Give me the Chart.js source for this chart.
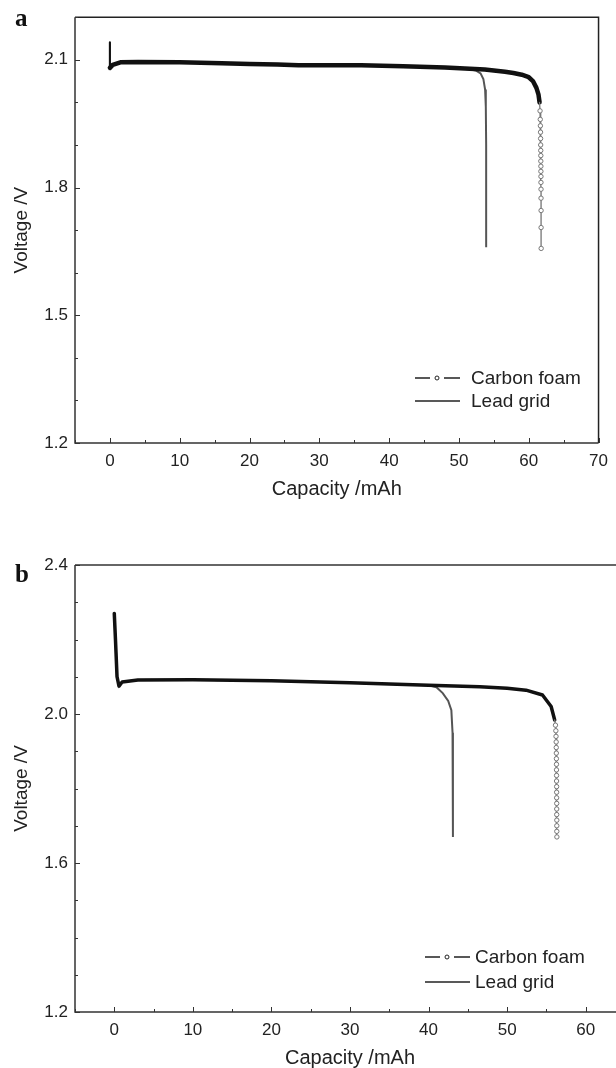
<!DOCTYPE html>
<html>
<head>
<meta charset="utf-8">
<script src="https://cdn.jsdelivr.net/npm/chart.js@4.4.1/dist/chart.umd.min.js"></script>
<style>
html, body { margin: 0; padding: 0; background: #fff; }
#wrap { position: relative; width: 616px; height: 1068px; overflow: hidden; }
.panel { position: absolute; left: 0; }
.tag { position: absolute; left: 15px; font: bold 25px "Liberation Serif", "DejaVu Serif", serif; color: #111; }
</style>
</head>
<body>
<div id="wrap">
  <div class="panel" style="top:0"><canvas id="chartA" width="616" height="505"></canvas></div>
  <div class="panel" style="top:505px"><canvas id="chartB" width="690" height="563"></canvas></div>
  <div class="tag" style="top:4px">a</div>
  <div class="tag" style="top:560px">b</div>
</div>
<script>
// panel a - capacity (mAh) / voltage (V)
const capA_foam = [0, 0, 0.4, 1.5, 4, 10, 16, 20, 24, 27, 30, 36, 42, 48, 53.7, 56.6, 57.8, 59, 60, 60.6, 61.1, 61.4, 61.55,
  61.62, 61.65, 61.67, 61.69, 61.7, 61.71, 61.72, 61.73, 61.73, 61.74, 61.74, 61.75, 61.75, 61.76, 61.76, 61.77, 61.77, 61.78]
const voltA_foam = [2.141, 2.081, 2.088, 2.094, 2.095, 2.094, 2.092, 2.090, 2.089, 2.087, 2.087, 2.087, 2.085, 2.082, 2.077, 2.072, 2.069, 2.065, 2.059, 2.050, 2.034, 2.018, 2.0,
  1.98, 1.96, 1.945, 1.93, 1.915, 1.90, 1.887, 1.875, 1.862, 1.85, 1.838, 1.826, 1.812, 1.796, 1.775, 1.746, 1.706, 1.657]
const capA_lead = [0, 0, 0.4, 1.5, 4, 10, 16, 20, 24, 27, 30, 36, 42, 48, 51.5, 52.4, 53.1, 53.5, 53.75, 53.85, 53.9, 53.9]
const voltA_lead = [2.141, 2.081, 2.088, 2.094, 2.095, 2.094, 2.092, 2.090, 2.089, 2.087, 2.087, 2.087, 2.085, 2.082, 2.078, 2.075, 2.068, 2.055, 2.03, 1.99, 1.9, 1.66]

// panel b
const capB_foam = [0, 0.15, 0.35, 0.6, 1, 3, 10, 20, 30, 34, 40, 46.5, 50, 52.4, 54.5, 55.6, 56.05,
  56.15, 56.2, 56.22, 56.24, 56.25, 56.26, 56.27, 56.28, 56.28, 56.29, 56.29, 56.3, 56.3, 56.3, 56.31, 56.31, 56.31, 56.32, 56.32, 56.32, 56.33]
const voltB_foam = [2.27, 2.2, 2.1, 2.075, 2.086, 2.091, 2.092, 2.089, 2.084, 2.081, 2.077, 2.073, 2.069, 2.064, 2.051, 2.02, 1.984,
  1.97, 1.955, 1.94, 1.925, 1.91, 1.895, 1.88, 1.865, 1.85, 1.835, 1.82, 1.805, 1.79, 1.775, 1.76, 1.745, 1.73, 1.715, 1.70, 1.685, 1.67]
const capB_lead = [0, 0.15, 0.35, 0.6, 1, 3, 10, 20, 30, 34, 40, 41, 41.8, 42.5, 42.9, 43.05, 43.1, 43.1]
const voltB_lead = [2.27, 2.2, 2.1, 2.075, 2.086, 2.091, 2.092, 2.089, 2.084, 2.081, 2.077, 2.072, 2.056, 2.035, 2.01, 1.95, 1.85, 1.67]

const seriesNames = ['Carbon foam', 'Lead grid']
const xTicksA = {min: -5, max: 70, step: 5}
const xTicksB = {min: -5, max: 65, step: 5}
const yTicksA = {min: 1.2, max: 2.2, step: 0.1, every: 3}
const yTicksB = {min: 1.2, max: 2.4, step: 0.1, every: 4}

const FONT = '"Liberation Sans", Arial, Helvetica, sans-serif'

function pts(xs, ys) {
    return xs.map((x, i) => ({x: x, y: ys[i]}))
}

// frame round the plot + inward tick marks
const frame = {
    id: 'frame',
    afterDraw(chart, args, o) {
        const {ctx, chartArea: a, scales} = chart
        ctx.save()
        ctx.lineCap = 'butt'
        ctx.strokeStyle = o.topColor
        ctx.lineWidth = o.topWidth
        ctx.beginPath()
        ctx.moveTo(a.left, a.top); ctx.lineTo(a.right, a.top); ctx.lineTo(a.right, a.bottom)
        ctx.stroke()
        ctx.strokeStyle = '#333'
        ctx.lineWidth = 1.5
        ctx.beginPath()
        ctx.moveTo(a.left, a.top); ctx.lineTo(a.left, a.bottom); ctx.lineTo(a.right, a.bottom)
        ctx.stroke()
        ctx.lineWidth = 1
        ctx.beginPath()
        scales.x.ticks.forEach(t => {
            const px = Math.round(scales.x.getPixelForValue(t.value)) + 0.5
            ctx.moveTo(px, a.bottom); ctx.lineTo(px, a.bottom - (t.label ? 5 : 3))
        })
        scales.y.ticks.forEach(t => {
            const py = Math.round(scales.y.getPixelForValue(t.value)) + 0.5
            ctx.moveTo(a.left, py); ctx.lineTo(a.left + (t.label ? 5 : 3), py)
        })
        ctx.stroke()
        ctx.restore()
    }
}

// legend drawn in the corner of the plot
const cornerLegend = {
    id: 'cornerLegend',
    afterDraw(chart, args, o) {
        const ctx = chart.ctx
        ctx.save()
        ctx.font = '19px ' + FONT
        ctx.textBaseline = 'middle'
        ctx.fillStyle = '#222'
        ctx.strokeStyle = '#222'
        ctx.lineWidth = 1.3
        chart.data.datasets.forEach((ds, i) => {
            const y = o.y + i * o.gap
            ctx.beginPath()
            if (ds.markBelow) {
                ctx.moveTo(o.x, y); ctx.lineTo(o.x + 15, y)
                ctx.moveTo(o.x + 29, y); ctx.lineTo(o.x + 45, y)
                ctx.stroke()
                ctx.beginPath()
                ctx.lineWidth = 1
                ctx.arc(o.x + 22, y, 2, 0, Math.PI * 2)
                ctx.stroke()
                ctx.lineWidth = 1.3
            } else {
                ctx.moveTo(o.x, y); ctx.lineTo(o.x + 45, y)
                ctx.stroke()
            }
            ctx.fillText(ds.label, o.x + o.textGap, y + 1)
        })
        ctx.restore()
    }
}

function makeChart(id, foam, lead, xt, yt, opts) {
    const foamDs = {
        label: seriesNames[0],
        data: foam,
        markBelow: opts.markBelow,
        borderColor: '#111',
        borderWidth: opts.foamWidth,
        borderJoinStyle: 'round',
        borderCapStyle: 'round',
        tension: 0,
        segment: {
            borderColor: c => c.p1.parsed.y < opts.markBelow ? '#777' : '#111',
            borderWidth: c => {
                if (c.p1.parsed.y < opts.markBelow) return 1.3
                if (c.p0.parsed.x === c.p1.parsed.x) return opts.spikeWidth
                return opts.foamWidth
            }
        },
        pointRadius: c => c.raw && c.raw.y < opts.markBelow ? 2.2 : 0,
        pointBorderColor: '#777',
        pointBackgroundColor: '#fff',
        pointBorderWidth: 1,
        order: 0
    }
    const leadDs = {
        label: seriesNames[1],
        data: lead,
        borderColor: '#555',
        borderWidth: 2,
        tension: 0,
        pointRadius: 0,
        order: 1
    }
    return new Chart(document.getElementById(id), {
        type: 'line',
        data: {datasets: [foamDs, leadDs]},
        options: {
            responsive: false,
            animation: false,
            events: [],
            devicePixelRatio: 1,
            layout: {padding: {top: opts.top, right: opts.right, left: 0, bottom: 0}},
            scales: {
                x: {
                    type: 'linear',
                    min: xt.min,
                    max: xt.max,
                    grid: {display: false, drawTicks: false},
                    border: {display: false},
                    afterFit: s => { s.height = opts.xHeight },
                    ticks: {
                        stepSize: xt.step,
                        autoSkip: false,
                        maxRotation: 0,
                        padding: 8,
                        color: '#222',
                        font: {family: FONT, size: 17},
                        callback: v => (v >= 0 && v % 10 === 0) ? String(v) : ''
                    },
                    title: {
                        display: true,
                        text: 'Capacity /mAh',
                        color: '#222',
                        font: {family: FONT, size: 20, lineHeight: 1},
                        padding: {top: 0, bottom: opts.xTitlePad}
                    }
                },
                y: {
                    type: 'linear',
                    min: yt.min,
                    max: yt.max,
                    grid: {display: false, drawTicks: false},
                    border: {display: false},
                    afterFit: s => { s.width = 75 },
                    ticks: {
                        stepSize: yt.step,
                        autoSkip: false,
                        padding: 7,
                        color: '#222',
                        font: {family: FONT, size: 17},
                        callback: v => Math.round(v * 10) % yt.every === 0 ? v.toFixed(1) : ''
                    },
                    title: {
                        display: true,
                        text: 'Voltage /V',
                        color: '#222',
                        font: {family: FONT, size: 19, lineHeight: 1},
                        padding: {top: 12.5, bottom: 0}
                    }
                }
            },
            plugins: {
                legend: {display: false},
                tooltip: {enabled: false},
                frame: {topColor: opts.topColor, topWidth: opts.topWidth},
                cornerLegend: opts.legend
            }
        },
        plugins: [frame, cornerLegend]
    })
}

makeChart('chartA', pts(capA_foam, voltA_foam), pts(capA_lead, voltA_lead), xTicksA, yTicksA, {
    markBelow: 1.985, foamWidth: 4.5, spikeWidth: 2, top: 16, right: 15, xHeight: 62, xTitlePad: 6,
    topColor: '#222', topWidth: 1.5,
    legend: {x: 415, y: 378, gap: 23, textGap: 56}
})
makeChart('chartB', pts(capB_foam, voltB_foam), pts(capB_lead, voltB_lead), xTicksB, yTicksB, {
    markBelow: 1.975, foamWidth: 3.5, spikeWidth: 3.5, top: 60, right: 65, xHeight: 56, xTitlePad: 0,
    topColor: '#666', topWidth: 2.2,
    legend: {x: 425, y: 452, gap: 25, textGap: 50}
})
</script>
</body>
</html>
